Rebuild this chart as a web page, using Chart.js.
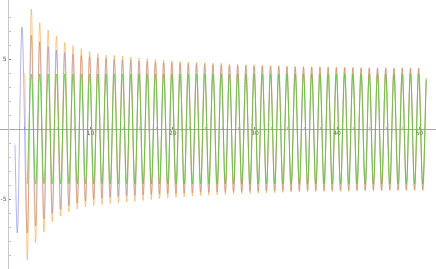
<!DOCTYPE html>
<html>
<head>
<meta charset="utf-8">
<script src="https://cdn.jsdelivr.net/npm/chart.js@4/dist/chart.umd.min.js"></script>
<style>
  html, body { margin: 0; padding: 0; background: #fff; }
  #plot { display: block; }
</style>
</head>
<body>
<canvas id="plot" width="436" height="269"></canvas>
<script>
// Times of the troughs and peaks (shared by the three curves after t ~ 2.3)
const troughTimes = [
  2.29, 3.31, 4.32, 5.33, 6.35, 7.36, 8.37, 9.37, 10.38, 11.38,
  12.38, 13.38, 14.39, 15.39, 16.39, 17.39, 18.39, 19.39, 20.39, 21.39,
  22.39, 23.39, 24.39, 25.40, 26.40, 27.40, 28.40, 29.40, 30.40, 31.40,
  32.40, 33.40, 34.40, 35.41, 36.41, 37.41, 38.41, 39.41, 40.42, 41.42,
  42.42, 43.42, 44.42, 45.42, 46.42, 47.43, 48.43, 49.43, 50.43
];
const peakTimes = [
  2.78, 3.81, 4.83, 5.84, 6.85, 7.86, 8.87, 9.88, 10.88, 11.88,
  12.88, 13.88, 14.89, 15.89, 16.89, 17.89, 18.89, 19.89, 20.89, 21.89,
  22.89, 23.89, 24.89, 25.90, 26.90, 27.90, 28.90, 29.90, 30.90, 31.90,
  32.90, 33.90, 34.90, 35.91, 36.91, 37.91, 38.91, 39.91, 40.92, 41.92,
  42.92, 43.92, 44.92, 45.92, 46.92, 47.93, 48.93, 49.93
];
const endTime = 50.85;

// Orange curve
const orangeLeadTimes = [2.0];
const orangeLeadValues = [4.0];
const orangeTroughs = [
  -9.36, -8.10, -7.35, -6.60, -6.20, -5.90, -5.70, -5.55, -5.45, -5.38,
  -5.30, -5.25, -5.20, -5.15, -5.08, -5.02, -4.96, -4.91, -4.86, -4.81,
  -4.77, -4.74, -4.71, -4.68, -4.65, -4.62, -4.60, -4.58, -4.56, -4.54,
  -4.52, -4.51, -4.49, -4.48, -4.47, -4.46, -4.45, -4.45, -4.44, -4.43,
  -4.43, -4.42, -4.42, -4.41, -4.40, -4.40, -4.39, -4.39, -4.38
];
const orangePeaks = [
  8.60, 7.62, 7.09, 6.67, 6.20, 5.98, 5.78, 5.58, 5.42, 5.30,
  5.28, 5.24, 5.17, 5.10, 5.05, 5.00, 4.95, 4.90, 4.86, 4.81,
  4.78, 4.76, 4.73, 4.71, 4.68, 4.65, 4.63, 4.62, 4.60, 4.58,
  4.56, 4.54, 4.52, 4.50, 4.49, 4.48, 4.47, 4.46, 4.45, 4.44,
  4.43, 4.42, 4.42, 4.41, 4.40, 4.40, 4.39, 4.39
];
const orangeEnd = 3.7;

// Blue curve
const blueLeadTimes = [0.79, 1.07, 1.64];
const blueLeadValues = [-1.1, -7.4, 7.3];
const blueTroughs = [
  -7.40, -6.90, -6.40, -6.00, -5.70, -5.45, -5.27, -5.12, -5.00, -4.92,
  -4.85, -4.80, -4.76, -4.72, -4.69, -4.66, -4.63, -4.60, -4.58, -4.56,
  -4.54, -4.52, -4.50, -4.48, -4.47, -4.45, -4.44, -4.43, -4.42, -4.41,
  -4.40, -4.39, -4.38, -4.37, -4.36, -4.36, -4.35, -4.35, -4.34, -4.34,
  -4.33, -4.33, -4.32, -4.32, -4.31, -4.31, -4.31, -4.30, -4.30
];
const bluePeaks = [
  6.72, 6.25, 5.90, 5.65, 5.48, 5.36, 5.27, 5.19, 5.12, 5.06,
  5.01, 4.96, 4.92, 4.88, 4.84, 4.80, 4.77, 4.74, 4.71, 4.68,
  4.66, 4.63, 4.61, 4.59, 4.57, 4.55, 4.53, 4.51, 4.50, 4.48,
  4.47, 4.45, 4.44, 4.43, 4.42, 4.41, 4.40, 4.39, 4.38, 4.37,
  4.36, 4.36, 4.35, 4.35, 4.34, 4.34, 4.33, 4.33
];
const blueEnd = 3.6;

// Green curve (steady oscillation)
const greenLeadTimes = [];
const greenLeadValues = [];
const greenTroughs = [
  -3.90, -3.90, -3.90, -3.90, -3.90, -3.90, -3.90, -3.90, -3.90, -3.90,
  -3.90, -3.90, -3.90, -3.90, -3.90, -3.90, -3.90, -3.90, -3.90, -3.90,
  -3.90, -3.90, -3.90, -3.90, -3.90, -3.90, -3.90, -3.90, -3.90, -3.90,
  -3.90, -3.90, -3.90, -3.90, -3.90, -3.90, -3.90, -3.90, -3.90, -3.90,
  -3.90, -3.90, -3.90, -3.90, -3.90, -3.90, -3.90, -3.90, -3.90
];
const greenPeaks = [
  3.95, 3.95, 3.95, 3.95, 3.95, 3.95, 3.95, 3.95, 3.95, 3.95,
  3.95, 3.95, 3.95, 3.95, 3.95, 3.95, 3.95, 3.95, 3.95, 3.95,
  3.95, 3.95, 3.95, 3.95, 3.95, 3.95, 3.95, 3.95, 3.95, 3.95,
  3.95, 3.95, 3.95, 3.95, 3.95, 3.95, 3.95, 3.95, 3.95, 3.95,
  3.95, 3.95, 3.95, 3.95, 3.95, 3.95, 3.95, 3.95
];
const greenEnd = 3.5;

// Axis ticks
const xTickLabels = [10, 20, 30, 40, 50];
const yTickLabels = [-5, 5];

// Put the lead points, then trough/peak pairs, then the end point in order
function buildPoints(leadTimes, leadValues, troughs, peaks, endValue) {
  const points = leadTimes.map((t, i) => ({ x: t, y: leadValues[i] }));
  troughs.forEach((v, i) => {
    points.push({ x: troughTimes[i], y: v });
    if (i < peaks.length) {
      points.push({ x: peakTimes[i], y: peaks[i] });
    }
  });
  points.push({ x: endTime, y: endValue });
  return points;
}

const isMajor = (list, value) => list.some((v) => Math.abs(v - value) < 1e-6);

const tickColor = (list) => (c) => {
  const v = c.tick.value;
  if (!Number.isInteger(v) || v === 0) return "rgba(0,0,0,0)";
  return isMajor(list, v) ? "#888" : "#c4c4c4";
};

// Y labels sit left of the y axis, right aligned
const yLabelPlugin = {
  id: "yLabels",
  afterDraw(chart) {
    const { ctx } = chart;
    const { x, y } = chart.scales;
    const axisX = x.getPixelForValue(0);
    ctx.save();
    ctx.font = '6px "DejaVu Sans"';
    ctx.fillStyle = "#555";
    ctx.textAlign = "right";
    ctx.textBaseline = "middle";
    yTickLabels.forEach((v) => {
      ctx.fillText(String(v), axisX - 2, y.getPixelForValue(v));
    });
    ctx.restore();
  },
};

new Chart(document.getElementById("plot"), {
  type: "line",
  data: {
    datasets: [
      {
        label: "green",
        data: buildPoints(greenLeadTimes, greenLeadValues, greenTroughs, greenPeaks, greenEnd),
        borderColor: "rgba(60, 205, 30, 0.85)",
        order: 0,
      },
      {
        label: "orange",
        data: buildPoints(orangeLeadTimes, orangeLeadValues, orangeTroughs, orangePeaks, orangeEnd),
        borderColor: "rgba(255, 150, 40, 0.65)",
        order: 1,
      },
      {
        label: "blue",
        data: buildPoints(blueLeadTimes, blueLeadValues, blueTroughs, bluePeaks, blueEnd),
        borderColor: "rgba(100, 100, 210, 0.6)",
        order: 2,
      },
    ],
  },
  options: {
    responsive: false,
    animation: false,
    layout: { padding: 0 },
    plugins: {
      legend: { display: false },
      tooltip: { enabled: false },
    },
    elements: {
      point: { radius: 0 },
      line: { borderWidth: 0.8, cubicInterpolationMode: "monotone", fill: false },
    },
    scales: {
      x: {
        type: "linear",
        min: -1.03,
        max: 52.04,
        position: { y: 0 },
        border: { color: "#a8a8a8", width: 1 },
        grid: {
          drawOnChartArea: false,
          tickLength: -3,
          tickColor: tickColor(xTickLabels),
        },
        ticks: {
          stepSize: 2,
          autoSkip: false,
          maxRotation: 0,
          padding: 4,
          color: "#555",
          font: { family: "DejaVu Sans", size: 6 },
          callback: (value) => (isMajor(xTickLabels, value) ? String(value) : ""),
        },
        afterFit: (scale) => {
          scale.height = 0;
          scale.paddingLeft = 0;
          scale.paddingRight = 0;
          scale.paddingTop = 0;
          scale.paddingBottom = 0;
        },
      },
      y: {
        type: "linear",
        min: -9.98,
        max: 9.24,
        position: { x: 0 },
        border: { color: "#c8c8c8", width: 1 },
        grid: {
          drawOnChartArea: false,
          tickLength: -3,
          tickColor: tickColor(yTickLabels),
        },
        ticks: {
          stepSize: 1,
          autoSkip: false,
          display: false,
        },
        afterFit: (scale) => {
          scale.width = 0;
          scale.paddingLeft = 0;
          scale.paddingRight = 0;
          scale.paddingTop = 0;
          scale.paddingBottom = 0;
        },
      },
    },
  },
  plugins: [yLabelPlugin],
});
</script>
</body>
</html>
